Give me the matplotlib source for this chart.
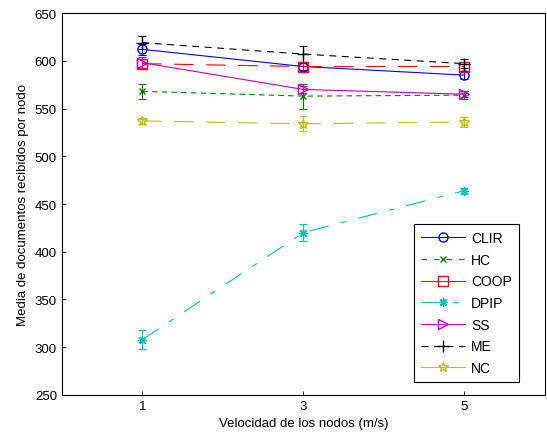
import matplotlib
matplotlib.use("Agg")
import matplotlib.pyplot as plt
from matplotlib.lines import Line2D

plt.rcParams['font.family'] = ['Liberation Sans', 'DejaVu Sans']
plt.rcParams['lines.scale_dashes'] = False

# Datos
velocidad = [1, 3, 5]
series = ["CLIR", "HC", "COOP", "DPIP", "SS", "ME", "NC"]
clir = [612, 594, 585]
hc = [568, 563, 564]
coop = [597, 594, 594]
dpip = [308, 420, 464]
ss = [598, 570, 565]
me = [619, 607, 597]
nc = [537, 534, 536]

err_clir = [6, 4, 4]
err_hc = [8, 13, 4]
err_coop = [5, 5, 5]
err_dpip = [10, 9, 3]
err_ss = [6, 4, 3]
err_me = [7, 8, 5]
err_nc = [3, 8, 5]

valores = [clir, hc, coop, dpip, ss, me, nc]
errores = [err_clir, err_hc, err_coop, err_dpip, err_ss, err_me, err_nc]

# estilo tipo MATLAB
colores = [(0, 0, 1), (0, 0.5, 0), (1, 0, 0), (0, 0.75, 0.75),
           (0.75, 0, 0.75), (0, 0, 0), (0.75, 0.75, 0)]
asterisco = (8, 2, 0)
marcadores = ['o', 'x', 's', asterisco, '>', '+', '*']
tamanos = [6.5, 4, 7, 6, 7, 8, 7]
trazos = [None, (4, 3), (14, 9), (14, 9, 4, 9), None, (5, 4), (14, 9)]
trazos_leyenda = [None, (4, 5), None, (14, 9, 4, 9), None, (5, 4), None]

fig = plt.figure(figsize=(5.47, 4.39), dpi=100)
ax = fig.add_axes([0.113, 0.098, 0.883, 0.870])

for y, e, c, m, ms, d in zip(valores, errores, colores, marcadores, tamanos, trazos):
    lineas = ax.errorbar(velocidad, y, yerr=e, color=c, marker=m, markersize=ms,
                         markerfacecolor='none', markeredgecolor=c,
                         linewidth=0.8, elinewidth=0.8, capsize=3, capthick=0.8)
    if d is not None:
        lineas[0].set_dashes(d)

handles = []
for c, m, ms, d in zip(colores, marcadores, tamanos, trazos_leyenda):
    h = Line2D([], [], color=c, marker=m, markerfacecolor='none',
               markeredgecolor=c, linewidth=0.8, markersize=ms)
    if d is not None:
        h.set_dashes(d)
    handles.append(h)

leg = ax.legend(handles, series, loc='lower right',
                bbox_to_anchor=(0.946, 0.034), borderaxespad=0,
                fontsize=10, fancybox=False, edgecolor='k', framealpha=1,
                handlelength=3.2, handletextpad=0.4, labelspacing=0.55,
                borderpad=0.5)
leg.get_frame().set_linewidth(0.8)

ax.set_xlim(0, 6)
ax.set_ylim(250, 650)
ax.set_xticks(velocidad)
ax.set_yticks(range(250, 651, 50))
ax.tick_params(direction='in', labelsize=9.5, length=3, width=0.6,
               top=False, right=False)
for s in ax.spines.values():
    s.set_linewidth(0.8)
ax.set_xlabel("Velocidad de los nodos (m/s)", fontsize=9.5)
ax.set_ylabel("Media de documentos recibidos por nodo", fontsize=9.5)

fig.savefig("out.png", dpi=100)
